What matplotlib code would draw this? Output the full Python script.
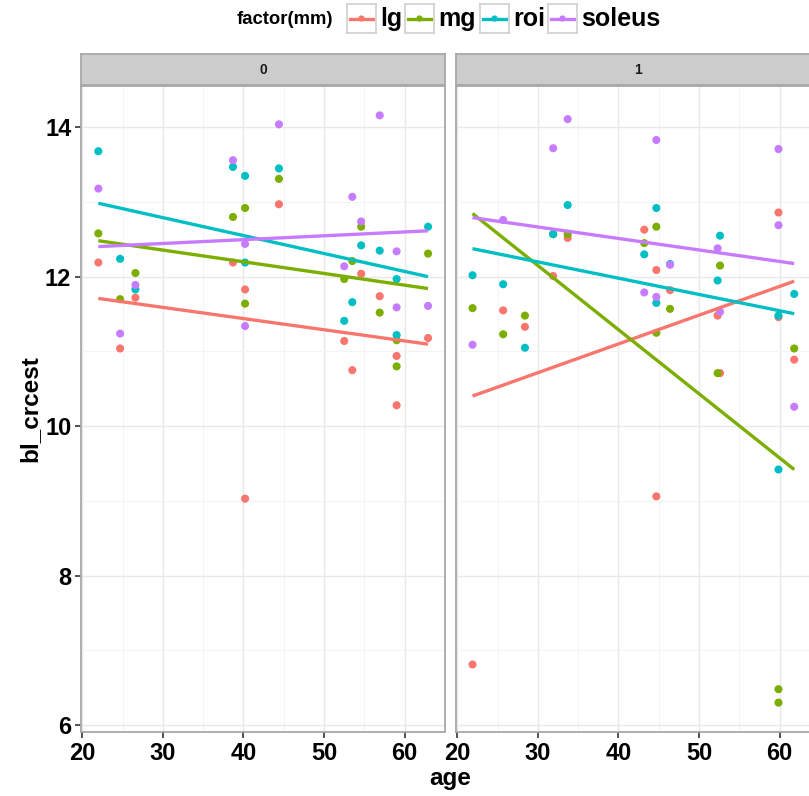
import numpy as np
import matplotlib
matplotlib.use("Agg")
import matplotlib.pyplot as plt

plt.rcParams['font.family'] = ['Liberation Sans', 'DejaVu Sans']

muscles = ["lg", "mg", "roi", "soleus"]
colors = ["#F8766D", "#7CAE00", "#00BFC4", "#C77CFF"]
facets = ["0", "1"]

age_0 = [22.0, 24.7, 26.6, 38.7, 40.2, 40.2, 44.4, 52.5, 53.5, 54.6, 56.9, 59.0, 59.0, 62.9]
lg_0 = [12.19, 11.04, 11.72, 12.19, 11.83, 9.03, 12.97, 11.14, 10.75, 12.04, 11.74, 10.94, 10.28, 11.18]
mg_0 = [12.58, 11.70, 12.05, 12.80, 12.92, 11.64, 13.31, 11.97, 12.21, 12.67, 11.52, 11.15, 10.80, 12.31]
roi_0 = [13.68, 12.24, 11.83, 13.47, 13.35, 12.19, 13.45, 11.41, 11.66, 12.42, 12.35, 11.97, 11.22, 12.67]
soleus_0 = [13.18, 11.24, 11.89, 13.56, 12.44, 11.34, 14.04, 12.14, 13.07, 12.74, 14.16, 12.34, 11.59, 11.61]

age_1 = [21.9, 25.7, 28.4, 31.9, 33.7, 43.2, 44.7, 44.7, 46.4, 52.3, 52.6, 59.85, 59.85, 61.8]
lg_1 = [6.81, 11.55, 11.33, 12.01, 12.52, 12.63, 12.09, 9.06, 11.82, 11.48, 10.71, 12.86, 11.46, 10.89]
mg_1 = [11.58, 11.23, 11.48, 12.57, 12.57, 12.45, 12.67, 11.25, 11.57, 10.71, 12.15, 6.48, 6.30, 11.04]
roi_1 = [12.02, 11.90, 11.05, 12.57, 12.96, 12.30, 12.92, 11.65, 12.17, 11.95, 12.55, 11.48, 9.42, 11.77]
soleus_1 = [11.09, 12.76, np.nan, 13.72, 14.11, 11.79, 13.83, 11.73, 12.16, 12.38, 11.53, 13.71, 12.69, 10.26]

x_ticks = [20, 30, 40, 50, 60]
y_ticks = [6, 8, 10, 12, 14]

panels = [
    (age_0, [lg_0, mg_0, roi_0, soleus_0]),
    (age_1, [lg_1, mg_1, roi_1, soleus_1]),
]

W, H = 809, 796
fig = plt.figure(figsize=(W / 100, H / 100), dpi=100)

def px_axes(x0, y0, x1, y1):
    return fig.add_axes([x0 / W, 1 - y1 / H, (x1 - x0) / W, (y1 - y0) / H])

# limits with ggplot-like 5% expansion
all_age = np.array(age_0 + age_1)
all_val = np.concatenate([np.array(v, float) for _, vs in panels for v in vs])
all_val = all_val[~np.isnan(all_val)]
xr = all_age.max() - all_age.min()
xlim = (all_age.min() - 0.05 * xr, all_age.max() + 0.05 * xr)
yr = all_val.max() - all_val.min()
ylim = (all_val.min() - 0.05 * yr, all_val.max() + 0.05 * yr)

border = "#A8A8A8"
panel_x = [(81, 445), (456, 820)]
ptop, pbot = 86, 732

for i, ((ages, vals), (x0, x1)) in enumerate(zip(panels, panel_x)):
    ax = px_axes(x0, ptop, x1, pbot)
    ax.set_xlim(*xlim)
    ax.set_ylim(*ylim)
    ax.set_xticks(x_ticks)
    ax.set_yticks(y_ticks)
    ax.set_xticks([25, 35, 45, 55, 65], minor=True)
    ax.set_yticks([7, 9, 11, 13], minor=True)
    ax.grid(True, which="major", color="#E8E8E8", lw=1.0, zorder=0)
    ax.grid(True, which="minor", color="#F4F4F4", lw=0.8, zorder=0)
    ax.set_axisbelow(True)
    for s in ax.spines.values():
        s.set_color(border)
        s.set_linewidth(1.3)
    ax.tick_params(which="minor", length=0)
    ax.tick_params(which="major", length=4, width=1.2, color="#333333",
                   labelsize=17, pad=3)
    for lab in ax.get_xticklabels() + ax.get_yticklabels():
        lab.set_fontweight("bold")
    if i == 1:
        ax.tick_params(axis="y", length=0, labelleft=False)
    a = np.array(ages, float)
    for v, c in zip(vals, colors):
        v = np.array(v, float)
        m = ~np.isnan(v)
        ax.scatter(a[m], v[m], s=34, color=c, edgecolors="none", zorder=3)
        k, b = np.polyfit(a[m], v[m], 1)
        xs = np.array([a.min(), a.max()])
        ax.plot(xs, k * xs + b, color=c, lw=2.4, zorder=4, solid_capstyle="butt")
    # strip
    sax = px_axes(x0, 54, x1, 85)
    sax.set_xticks([]); sax.set_yticks([])
    sax.set_facecolor("#CCCCCC")
    for s in sax.spines.values():
        s.set_color(border)
        s.set_linewidth(1.3)
    sax.text(0.5, 0.5, facets[i], transform=sax.transAxes, ha="center",
             va="center", fontsize=10, fontweight="bold", color="#1A1A1A")

fig.text(450 / W, 1 - 778 / H, "age", ha="center", va="center",
         fontsize=17.5, fontweight="bold")
fig.text(30 / W, 1 - 409 / H, "bl_crcest", ha="center", va="center",
         rotation=90, fontsize=17.5, fontweight="bold")

# legend on top
fig.text(237 / W, 1 - 20 / H, "factor(mm)", ha="left", va="center",
         fontsize=13.3, fontweight="bold")
key_x = [347, 405, 480, 548]
for kx, name, c in zip(key_x, muscles, colors):
    kax = px_axes(kx, 4, kx + 29, 33)
    kax.set_xlim(0, 1); kax.set_ylim(0, 1)
    kax.set_xticks([]); kax.set_yticks([])
    for s in kax.spines.values():
        s.set_color("#D0D0D0")
        s.set_linewidth(1.2)
    kax.plot([0.1, 0.9], [0.5, 0.5], color=c, lw=2.4)
    kax.scatter([0.5], [0.5], s=20, color=c, edgecolors="none")
    fig.text((kx + 33) / W, 1 - 19 / H, name, ha="left", va="center",
             fontsize=18, fontweight="bold")

fig.savefig("out.png", dpi=100)
